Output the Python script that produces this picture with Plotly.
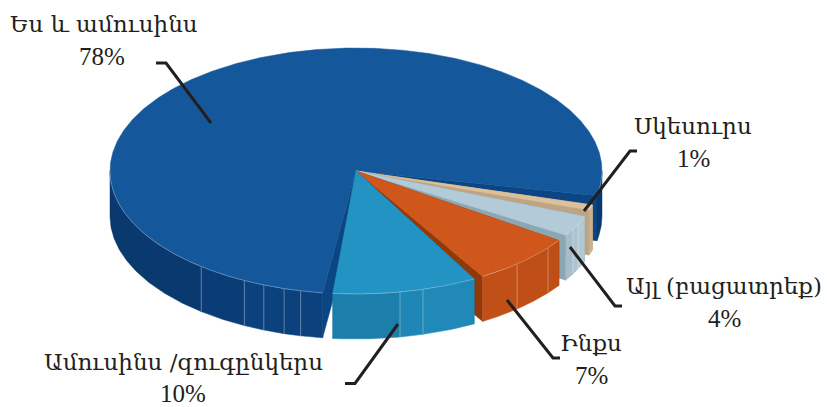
import math
import numpy as np
import plotly.graph_objects as go

# ---- data ----
categories = ["Ամուսինս /զուգընկերս", "Ինքս", "Այլ (բացատրեք)", "Սկեսուրս", "Ես և ամուսինս"]
values = [10, 7, 4, 1, 78]
top_colors = ["#2393c4", "#cf571c", "#b3cad8", "#dcc09b", "#14589b"]
cut_colors = ["#1a6f9a", "#8f3a08", "#8da6b4", "#bda583", "#0c4583"]
# wall bands: marks split the wall, with one colour per band
rim_marks = [[10.3, 15.8], [40.9, 51.3], [61.9, 64.5], [], [321, 333, 338, 343, 347]]
rim_bands = [
    ["#1c7eab", "#1f87b5", "#2089b8"],
    ["#c05017", "#bf4f17", "#bd4e16"],
    ["#a6bdca", "#adc3cf", "#b3c8d3"],
    ["#c9b18e"],
    ["#09396e", "#0a3d76", "#0b417c", "#0b417c", "#0b417c", "#0b417c"],
]

# ---- pie geometry ----
CX, CY, RX, RY, DEPTH = 356, 171, 246, 123, 45
START, GAP = -5.4, 2.4
INK = "#231f20"
# the picture's perspective foreshortens the right of the pie
WARP_IN = [29.4, 31.8, 56.2, 58.6, 72.5, 74.9, 78.4, 80.8]
WARP_OUT = [28.7, 31.0, 55.6, 58.6, 68.3, 71.5, 74.0, 78.5]


def warp(theta):
    return float(np.interp(theta, WARP_IN, WARP_OUT)) if WARP_IN[0] - 0.01 <= theta <= WARP_IN[-1] + 0.01 else theta


def pt(theta, dy=0.0, r=1.0):
    t = np.radians(theta)
    return CX + r * RX * np.sin(t), CY + r * RY * np.cos(t) + dy


fig = go.Figure()


def poly(xs, ys, color, width=0.5):
    fig.add_trace(go.Scatter(x=list(xs), y=list(ys), mode="lines", fill="toself",
                             fillcolor=color, line=dict(color=color, width=width),
                             hoverinfo="skip", showlegend=False))


def line(xs, ys, color, width, opacity=1.0):
    fig.add_trace(go.Scatter(x=list(xs), y=list(ys), mode="lines", opacity=opacity,
                             line=dict(color=color, width=width),
                             hoverinfo="skip", showlegend=False))


def cut(theta, color):
    x, y = pt(theta)
    poly([CX, x, x, CX, CX], [CY, y, y + DEPTH, CY + DEPTH, CY], color)


def rim(a, b, color):
    th = np.linspace(a, b, max(int(abs(b - a) * 2), 2))
    x1, y1 = pt(th)
    x2, y2 = pt(th[::-1], DEPTH)
    poly(np.r_[x1, x2, x1[0]], np.r_[y1, y2, y1[0]], color)


# compute angular extents from the values
unit = (360 - GAP * len(values)) / sum(values)
spans = []
a = START
for v in values:
    b = a + v * unit
    spans.append((warp(a), warp(b)))
    a = b + GAP

# paint back to front
for i in [4, 3, 2, 1, 0]:
    a, b = spans[i]
    cut(a, cut_colors[i])
    cut(b, cut_colors[i])
    # outer wall: only the part facing the viewer
    for lo, hi in [(-90, 90), (270, 450)]:
        s, e = max(a, lo), min(b, hi)
        if e > s:
            inner = [m for m in rim_marks[i] if s < m < e]
            edges = [s] + inner + [e]
            first = sum(1 for m in rim_marks[i] if m <= s)
            for k in range(len(edges) - 1):
                rim(edges[k], edges[k + 1], rim_bands[i][first + k])
    for m in rim_marks[i]:
        x, y = pt(m)
        line([x, x], [y, y + DEPTH], "#ffffff", 0.8, 0.4)
    th = np.linspace(a, b, max(int((b - a) * 2), 2))
    x, y = pt(th)
    poly(np.r_[CX, x, CX], np.r_[CY, y, CY], top_colors[i])
    # thin light front edge on the top face
    for lo, hi in [(-90, 90), (270, 450)]:
        s, e = max(a, lo), min(b, hi)
        if e > s:
            th2 = np.linspace(s, e, max(int((e - s) * 2), 2))
            x2, y2 = pt(th2)
            line(x2, y2, "#ffffff", 0.8, 0.35)

# leader lines
leaders = [
    ([345, 355, 398], [383.5, 383.5, 324]),
    ([560, 553, 507], [358, 358, 300]),
    ([622, 615, 570], [306, 306, 247]),
    ([637, 630, 584], [151, 151, 211]),
    ([156, 166, 211], [63, 63, 123]),
]
for xs, ys in leaders:
    line(xs, ys, INK, 3)

# labels: name line and percentage line
name_pos = [(183, 362), (591, 343), (724, 286), (693, 126), (104, 24)]
pct_pos = [(183, 393), (591, 375), (724, 318), (693, 158), (102, 56)]
annotations = []
for c, v, p, q in zip(categories, values, name_pos, pct_pos):
    annotations.append(dict(x=p[0], y=p[1], xref="x", yref="y", text=c, showarrow=False,
                            xanchor="center", yanchor="middle",
                            font=dict(family="DejaVu Serif", size=23, color=INK)))
    annotations.append(dict(x=q[0], y=q[1], xref="x", yref="y", text=f"{v}%", showarrow=False,
                            xanchor="center", yanchor="middle",
                            font=dict(family="Liberation Serif", size=25, color=INK)))

fig.update_layout(
    width=827, height=407, margin=dict(l=0, r=0, t=0, b=0),
    paper_bgcolor="white", plot_bgcolor="white", showlegend=False,
    xaxis=dict(range=[0, 827], visible=False, fixedrange=True),
    yaxis=dict(range=[407, 0], visible=False, fixedrange=True),
    annotations=annotations,
)
fig.write_html("out.html", config={"displayModeBar": False},
               post_script="document.body.style.margin='0';document.documentElement.style.overflow='hidden';")
